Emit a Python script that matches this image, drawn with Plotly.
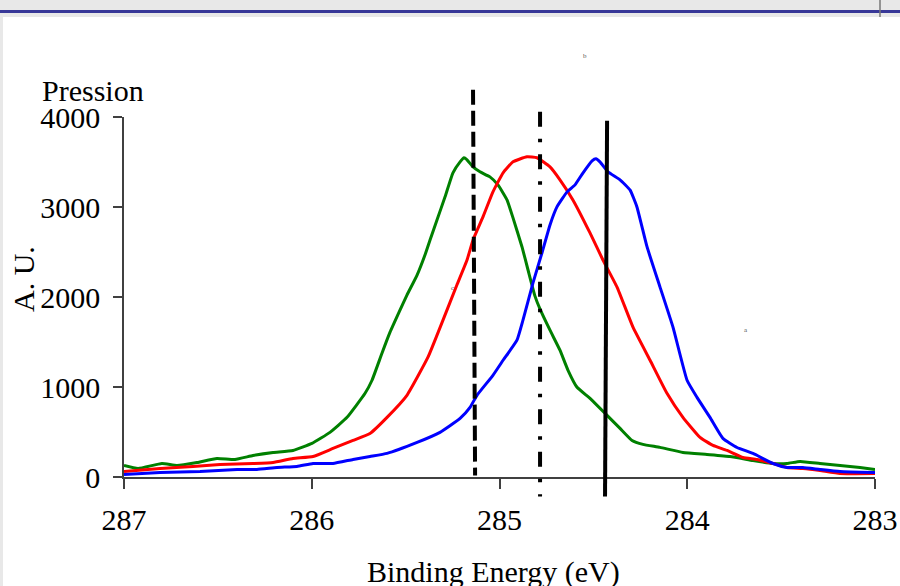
import plotly.graph_objects as go

# ---------------- data ----------------
green_x = [287.000, 286.925, 286.798, 286.718, 286.611, 286.505, 286.409, 286.313, 286.206, 286.100,
           285.999, 285.903, 285.812, 285.716, 285.679, 285.626, 285.583, 285.530, 285.493, 285.439,
           285.397, 285.370, 285.333, 285.290, 285.248, 285.210, 285.189, 285.173, 285.141, 285.104,
           285.051, 285.008, 284.960, 284.928, 284.880, 284.848, 284.811, 284.784, 284.731, 284.678,
           284.635, 284.587, 284.518, 284.427, 284.358, 284.294, 284.236, 284.145, 284.023, 283.895,
           283.772, 283.650, 283.543, 283.469, 283.399, 283.293, 283.186, 283.080, 283.000]
green_y = [128, 95, 150, 128, 161, 206, 195, 239, 273, 295,
           373, 496, 663, 930, 1075, 1375, 1609, 1854, 2021, 2244,
           2467, 2634, 2856, 3113, 3380, 3502, 3547, 3524, 3446, 3391,
           3335, 3246, 3079, 2879, 2556, 2300, 2010, 1865, 1631, 1409,
           1186, 997, 874, 685, 540, 406, 362, 329, 273, 251,
           228, 184, 150, 150, 173, 150, 128, 106, 84]

red_x = [287.000, 286.808, 286.632, 286.489, 286.313, 286.206, 286.100, 285.993, 285.887, 285.780,
         285.690, 285.599, 285.493, 285.381, 285.301, 285.227, 285.173, 285.141, 285.088, 285.035,
         284.981, 284.928, 284.854, 284.800, 284.731, 284.678, 284.609, 284.518, 284.449, 284.374,
         284.289, 284.198, 284.108, 284.023, 283.932, 283.863, 283.788, 283.703, 283.629, 283.543,
         283.469, 283.384, 283.293, 283.186, 283.000]
red_y = [61, 95, 117, 139, 150, 161, 206, 228, 317, 406,
         484, 663, 908, 1331, 1743, 2133, 2411, 2634, 2890, 3168,
         3380, 3502, 3558, 3547, 3446, 3302, 3079, 2712, 2411, 2110,
         1665, 1297, 930, 663, 440, 351, 295, 217, 195, 150,
         106, 95, 72, 39, 39]

blue_x = [287.000, 286.808, 286.595, 286.398, 286.292, 286.185, 286.079, 285.993, 285.887, 285.780,
          285.690, 285.599, 285.439, 285.317, 285.210, 285.157, 285.120, 285.035, 284.981, 284.907,
          284.875, 284.822, 284.774, 284.731, 284.694, 284.640, 284.598, 284.555, 284.507, 284.486,
          284.465, 284.422, 284.358, 284.305, 284.268, 284.214, 284.145, 284.076, 284.001, 283.948,
          283.879, 283.810, 283.735, 283.650, 283.543, 283.469, 283.384, 283.293, 283.186, 283.000]
blue_y = [28, 50, 61, 84, 84, 106, 117, 150, 150, 195,
          228, 262, 384, 496, 651, 774, 908, 1130, 1297, 1520,
          1743, 2155, 2489, 2801, 3001, 3168, 3246, 3380, 3513, 3536,
          3502, 3391, 3302, 3190, 3001, 2556, 2110, 1665, 1075, 885,
          663, 429, 328, 262, 150, 106, 106, 84, 61, 50]

# reference vertical markers: (x_top, x_bottom, y_top, y_bottom)
marker_dashed = [285.141, 285.130, 4304, 17]
marker_dashdot = [284.784, 284.784, 4059, -217]
marker_solid = [284.427, 284.438, 3959, -217]

x_ticks = [287, 286, 285, 284, 283]
y_ticks = [0, 1000, 2000, 3000, 4000]
X_RANGE = [287, 283]
Y_RANGE = [0, 4000]

# ---------------- layout geometry ----------------
W, H = 900, 586
ML, MR, MT, MB = 124, 25, 117, 109
PW, PH = W - ML - MR, H - MT - MB


def px(xp):
    return (xp - ML) / PW


def py(yp):
    return (H - MB - yp) / PH


def ydom(v):
    return (v - Y_RANGE[0]) / (Y_RANGE[1] - Y_RANGE[0])


FONT = "Liberation Serif, Times New Roman, serif"
FS = 30

fig = go.Figure()
for xs, ys, col in [(green_x, green_y, "#008000"), (red_x, red_y, "#ff0000"), (blue_x, blue_y, "#0000ff")]:
    fig.add_trace(go.Scatter(x=xs, y=ys, mode="lines",
                             line=dict(color=col, width=3, shape="spline", smoothing=0.4),
                             showlegend=False, hoverinfo="skip"))

shapes = []
for m, dash in [(marker_dashed, "15px,6px"), (marker_dashdot, "15px,12px,3.5px,12px"), (marker_solid, "solid")]:
    shapes.append(dict(type="line", xref="x", yref="y domain",
                       x0=m[0], x1=m[1], y0=ydom(m[2]), y1=ydom(m[3]),
                       line=dict(color="black", width=4, dash=dash)))

# slide frame decorations
shapes += [
    dict(type="rect", xref="paper", yref="paper", x0=px(0), x1=px(900), y0=py(0), y1=py(17),
         fillcolor="#e8e8e8", line=dict(width=0), layer="below"),
    dict(type="rect", xref="paper", yref="paper", x0=px(0), x1=px(3), y0=py(17), y1=py(586),
         fillcolor="#e8e8e8", line=dict(width=0), layer="below"),
    dict(type="line", xref="paper", yref="paper", x0=px(0), x1=px(900), y0=py(11.5), y1=py(11.5),
         line=dict(color="#383898", width=3)),
    dict(type="line", xref="paper", yref="paper", x0=px(880), x1=px(880), y0=py(0), y1=py(17),
         line=dict(color="#777777", width=1.5)),
]

annotations = [
    dict(text="Pression", xref="paper", yref="paper", x=px(40), y=py(90), xanchor="left", yanchor="middle",
         showarrow=False, font=dict(family=FONT, size=FS, color="black")),
    dict(text="A. U.", xref="paper", yref="paper", x=px(23), y=py(279), xanchor="center", yanchor="middle",
         textangle=-90, showarrow=False, font=dict(family=FONT, size=FS, color="black")),
    dict(text="Binding Energy (eV)", xref="paper", yref="paper", x=px(493), y=py(572), xanchor="center",
         yanchor="middle", showarrow=False, font=dict(family=FONT, size=FS, color="black")),
    dict(text="b", xref="paper", yref="paper", x=px(585), y=py(50), showarrow=False,
         font=dict(family=FONT, size=7, color="#555555")),
    dict(text="c", xref="paper", yref="paper", x=px(452), y=py(288), showarrow=False,
         font=dict(family=FONT, size=7, color="#555555")),
    dict(text="a", xref="paper", yref="paper", x=px(750), y=py(330), showarrow=False,
         font=dict(family=FONT, size=7, color="#555555")),
]

fig.update_layout(
    width=W, height=H, autosize=False,
    margin=dict(l=ML, r=MR, t=MT, b=MB, pad=0, autoexpand=False),
    paper_bgcolor="white", plot_bgcolor="white",
    shapes=shapes, annotations=annotations,
    xaxis=dict(range=X_RANGE, tickvals=x_ticks, ticktext=[str(v) for v in x_ticks], automargin=False,
               showgrid=False, zeroline=False, showline=True, linecolor="#404040", linewidth=1.5,
               ticks="outside", ticklen=10, tickwidth=1.5, tickcolor="#404040",
               tickfont=dict(family=FONT, size=FS, color="black"), ticklabelstandoff=5),
    yaxis=dict(range=Y_RANGE, tickvals=y_ticks, ticktext=[str(v) for v in y_ticks], automargin=False,
               showgrid=False, zeroline=False, showline=True, linecolor="#404040", linewidth=1.5,
               ticks="outside", ticklen=9, tickwidth=1.5, tickcolor="#404040",
               tickfont=dict(family=FONT, size=FS, color="black"), ticklabelstandoff=7),
    showlegend=False,
)

fig.write_html("out.html", config={"displayModeBar": False},
               post_script="document.body.style.margin='0';document.body.style.padding='0';"
                           "document.body.style.overflow='hidden';")
